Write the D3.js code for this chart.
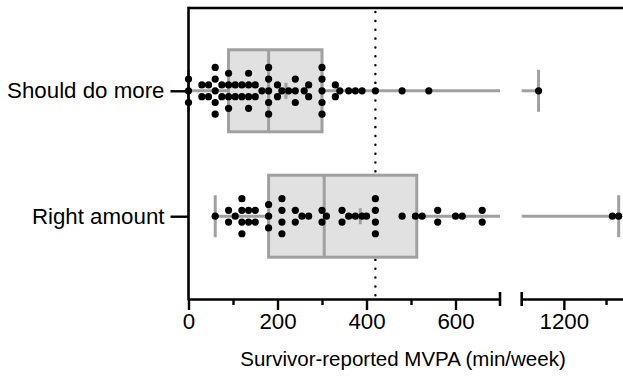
<!DOCTYPE html>
<html>
<head>
<meta charset="utf-8">
<script src="https://cdn.jsdelivr.net/npm/d3@7"></script>
<style>
  html, body { margin: 0; padding: 0; background: #ffffff; }
  svg { display: block; }
  text { font-family: "Liberation Sans", Arial, sans-serif; fill: #000; }
</style>
</head>
<body>
<div id="chart"></div>
<script>
// ---------------- data ----------------
const categories = ["Should do more", "Right amount"];

// survivor-reported MVPA (min/week), one entry per dot
const shouldDoMoreValues = [
  0, 0, 0, 30, 30, 45, 45, 60, 60, 60, 60, 60, 75, 75, 90, 90, 90, 90,
  105, 105, 120, 120, 135, 135, 135, 135, 150, 150, 165,
  180, 180, 180, 180, 180, 200, 200, 210, 225, 240, 240, 240, 260,
  270, 270, 300, 300, 300, 300, 300, 330, 330, 340, 360, 375, 390,
  420, 480, 540, 1140
];
const rightAmountValues = [
  60, 90, 90, 105, 120, 120, 120, 120, 135, 135, 150, 150,
  180, 180, 180, 210, 210, 210, 210, 240, 240, 255, 270, 300, 300, 310,
  345, 345, 360, 375, 390, 400, 420, 420, 420, 420,
  480, 510, 525, 560, 560, 600, 615, 660, 660, 1315, 1330
];

// box statistics
const boxMin    = [0, 60];
const boxQ1     = [90, 180];
const boxMedian = [180, 305];
const boxQ3     = [300, 513];
const boxMax    = [1140, 1330];
const boxMean   = [219, 386];

const guideline = 420;

// axis segments (broken axis) and ticks
const leftDomain  = [0, 700];
const rightDomain = [1100, 1400];
const leftMajorTicks  = [0, 200, 400, 600];
const leftMinorTicks  = [100, 300, 500];
const rightMajorTicks = [1200];
const rightMinorTicks = [1300];
const xTitle = "Survivor-reported MVPA (min/week)";

// ---------------- layout ----------------
const W = 623, H = 376;
const axisY = 299, topY = 8, leftX = 188.5;
const gray = "#a0a0a0", boxFill = "#e0e1e0";
const dotR = 3.6, laneGap = 11.7, boxHalf = 41, capHalf = 21;

const svg = d3.select("#chart").append("svg")
  .attr("width", W).attr("height", H)
  .attr("viewBox", `0 0 ${W} ${H}`);

const xL = d3.scaleLinear().domain(leftDomain).range([leftX, 500]);
const xR = d3.scaleLinear().domain(rightDomain).range([521.7, 648.2]);
const y = d3.scalePoint().domain(categories).range([topY, axisY]).padding(0.66);

const segments = [xL, xR];
function xPos(v) { return v <= leftDomain[1] ? xL(v) : xR(v); }

// ---------------- guideline ----------------
svg.append("line")
  .attr("x1", xL(guideline)).attr("x2", xL(guideline))
  .attr("y1", topY + 4).attr("y2", axisY)
  .attr("stroke", "#000").attr("stroke-width", 2.4)
  .attr("stroke-linecap", "round")
  .attr("stroke-dasharray", "0.1 8.75");

// ---------------- boxes ----------------
const stats = categories.map((c, i) => ({
  cat: c, min: boxMin[i], q1: boxQ1[i], med: boxMedian[i],
  q3: boxQ3[i], max: boxMax[i], mean: boxMean[i]
}));

const g = svg.append("g");

stats.forEach(s => {
  const cy = y(s.cat);
  [[s.min, s.q1], [s.q3, s.max]].forEach(([a, b]) => {
    segments.forEach(sc => {
      const [d0, d1] = sc.domain();
      const lo = Math.max(a, d0), hi = Math.min(b, d1);
      if (hi > lo) {
        g.append("line")
          .attr("x1", sc(lo)).attr("x2", sc(hi))
          .attr("y1", cy).attr("y2", cy)
          .attr("stroke", gray).attr("stroke-width", 3);
      }
    });
  });
  [s.min, s.max].forEach(v => {
    g.append("line")
      .attr("x1", xPos(v)).attr("x2", xPos(v))
      .attr("y1", cy - capHalf).attr("y2", cy + capHalf)
      .attr("stroke", gray).attr("stroke-width", 3);
  });
  g.append("rect")
    .attr("x", xL(s.q1)).attr("y", cy - boxHalf)
    .attr("width", xL(s.q3) - xL(s.q1)).attr("height", boxHalf * 2)
    .attr("fill", boxFill).attr("stroke", gray).attr("stroke-width", 3);
  g.append("line")
    .attr("x1", xL(s.med)).attr("x2", xL(s.med))
    .attr("y1", cy - boxHalf).attr("y2", cy + boxHalf)
    .attr("stroke", gray).attr("stroke-width", 3);
  g.append("line")
    .attr("x1", xL(s.mean) - 8).attr("x2", xL(s.mean) + 8)
    .attr("y1", cy).attr("y2", cy)
    .attr("stroke", gray).attr("stroke-width", 3);
  g.append("line")
    .attr("x1", xL(s.mean)).attr("x2", xL(s.mean))
    .attr("y1", cy - 8).attr("y2", cy + 8)
    .attr("stroke", gray).attr("stroke-width", 3);
});

// ---------------- dots (identical values stacked symmetrically) ----------------
function stack(values, cat) {
  const groups = d3.groups(values, v => v);
  const out = [];
  groups.forEach(([v, arr]) => {
    const n = arr.length;
    arr.forEach((_, i) => {
      out.push({ v, cat, off: (i - (n - 1) / 2) * laneGap });
    });
  });
  return out;
}
const dots = stack(shouldDoMoreValues, categories[0])
  .concat(stack(rightAmountValues, categories[1]));

svg.append("g").selectAll("circle").data(dots).join("circle")
  .attr("cx", d => xPos(d.v))
  .attr("cy", d => y(d.cat) + d.off)
  .attr("r", dotR)
  .attr("fill", "#000");

// ---------------- frame / axes ----------------
svg.append("line")
  .attr("x1", leftX).attr("x2", W + 5)
  .attr("y1", topY).attr("y2", topY)
  .attr("stroke", "#000").attr("stroke-width", 2.6);

const yAxis = d3.axisLeft(y).tickSize(18).tickPadding(6).tickSizeOuter(0);
const gy = svg.append("g").attr("transform", `translate(${leftX},0)`).call(yAxis);
gy.select(".domain").remove();
gy.selectAll(".tick line").attr("stroke", "#000").attr("stroke-width", 2.4);
gy.selectAll(".tick text").style("font-size", "22.3px");
svg.append("line")
  .attr("x1", leftX).attr("x2", leftX)
  .attr("y1", topY - 1.3).attr("y2", axisY + 1.3)
  .attr("stroke", "#000").attr("stroke-width", 2.6);

function drawSeg(sc, major, minor) {
  const gM = svg.append("g").attr("transform", `translate(0,${axisY})`)
    .call(d3.axisBottom(sc).tickValues(major).tickSize(11).tickPadding(3)
      .tickSizeOuter(0).tickFormat(d3.format("d")));
  gM.select(".domain").attr("stroke", "#000").attr("stroke-width", 2.6);
  gM.selectAll(".tick line").attr("stroke", "#000").attr("stroke-width", 2.4);
  gM.selectAll(".tick text").style("font-size", "22.3px");
  const gm = svg.append("g").attr("transform", `translate(0,${axisY})`)
    .call(d3.axisBottom(sc).tickValues(minor).tickSize(6).tickFormat(""));
  gm.select(".domain").remove();
  gm.selectAll(".tick line").attr("stroke", "#000").attr("stroke-width", 2.4);
}
drawSeg(xL, leftMajorTicks, leftMinorTicks);
drawSeg(xR, rightMajorTicks, rightMinorTicks);

[xL(leftDomain[1]), xR(rightDomain[0])].forEach(px => {
  svg.append("line")
    .attr("x1", px).attr("x2", px)
    .attr("y1", axisY - 7).attr("y2", axisY + 7)
    .attr("stroke", "#000").attr("stroke-width", 2.6);
});

svg.append("text")
  .attr("x", 403).attr("y", 365.5)
  .attr("text-anchor", "middle")
  .style("font-size", "20.5px")
  .text(xTitle);
</script>
</body>
</html>
